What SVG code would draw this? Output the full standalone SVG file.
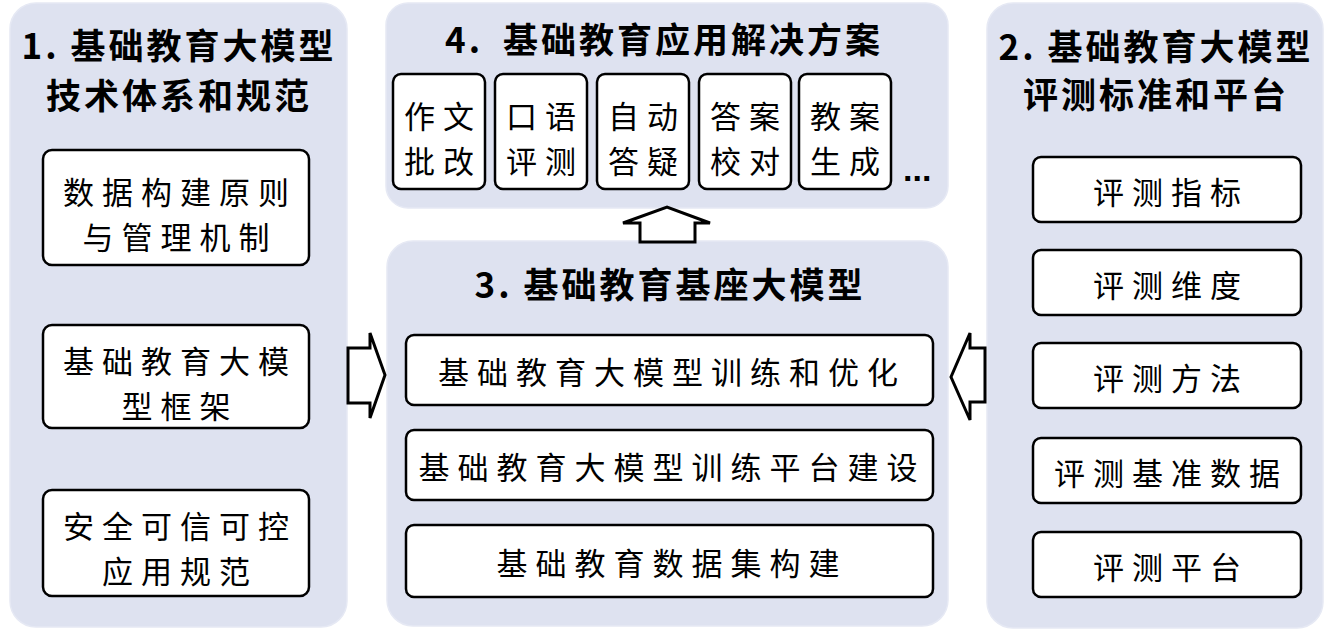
<svg xmlns="http://www.w3.org/2000/svg" width="1334" height="630" viewBox="0 0 1334 630">
  <style>
    .panel { fill: #DEE2F0; stroke: #E6E9F4; stroke-width: 1.5; }
    .box { fill: #FFFFFF; stroke: #000000; stroke-width: 2.5; }
    .arrow { fill: #FFFFFF; stroke: #000000; stroke-width: 3; stroke-linejoin: miter; }
    .title { font-family: "Noto Sans CJK SC", "Liberation Sans", sans-serif; font-weight: bold; font-size: 35px; letter-spacing: 3px; fill: #000; text-anchor: middle; dominant-baseline: central; }
    .lbl { font-family: "Noto Sans CJK SC", sans-serif; font-weight: normal; font-size: 31px; letter-spacing: 8px; fill: #000; text-anchor: middle; dominant-baseline: central; }
    .dots { font-family: "Liberation Sans", sans-serif; font-weight: bold; font-size: 34px; fill: #000; }
  </style>
  <rect width="1334" height="630" fill="#FFFFFF"/>

  <g id="panel-1">
    <rect class="panel" x="10" y="3" width="337" height="624" rx="26"/>
    <text class="title"><tspan x="179" y="43">1. 基础教育大模型</tspan><tspan x="179" y="93">技术体系和规范</tspan></text>
  </g>
  <g id="node-1a">
    <rect class="box" x="43" y="150" width="266" height="115" rx="9"/>
    <text class="lbl"><tspan x="180" y="190">数据构建原则</tspan><tspan x="180" y="235">与管理机制</tspan></text>
  </g>
  <g id="node-1b">
    <rect class="box" x="43" y="325" width="266" height="103" rx="9"/>
    <text class="lbl"><tspan x="180" y="359">基础教育大模</tspan><tspan x="180" y="404">型框架</tspan></text>
  </g>
  <g id="node-1c">
    <rect class="box" x="43" y="490" width="266" height="106" rx="9"/>
    <text class="lbl"><tspan x="180" y="524">安全可信可控</tspan><tspan x="180" y="569">应用规范</tspan></text>
  </g>

  <g id="panel-4">
    <rect class="panel" x="386" y="3" width="562" height="205" rx="22"/>
    <text class="title" y="37" style="text-anchor:start"><tspan x="445">4.</tspan><tspan x="503">基础教育应用解决方案</tspan></text>
  </g>
  <g id="node-4a">
    <rect class="box" x="393" y="74" width="92" height="115" rx="8"/>
    <text class="lbl"><tspan x="443" y="114">作文</tspan><tspan x="443" y="159">批改</tspan></text>
  </g>
  <g id="node-4b">
    <rect class="box" x="495" y="74" width="92" height="115" rx="8"/>
    <text class="lbl"><tspan x="545" y="114">口语</tspan><tspan x="545" y="159">评测</tspan></text>
  </g>
  <g id="node-4c">
    <rect class="box" x="597" y="74" width="92" height="115" rx="8"/>
    <text class="lbl"><tspan x="647" y="114">自动</tspan><tspan x="647" y="159">答疑</tspan></text>
  </g>
  <g id="node-4d">
    <rect class="box" x="699" y="74" width="92" height="115" rx="8"/>
    <text class="lbl"><tspan x="749" y="114">答案</tspan><tspan x="749" y="159">校对</tspan></text>
  </g>
  <g id="node-4e">
    <rect class="box" x="799" y="74" width="92" height="115" rx="8"/>
    <text class="lbl"><tspan x="849" y="114">教案</tspan><tspan x="849" y="159">生成</tspan></text>
  </g>
  <text class="dots" x="903" y="181">...</text>

  <g id="panel-3">
    <rect class="panel" x="387" y="241" width="561" height="385" rx="26"/>
    <text class="title" x="670" y="282">3. 基础教育基座大模型</text>
  </g>
  <g id="node-3a">
    <rect class="box" x="406" y="335" width="527" height="70" rx="8"/>
    <text class="lbl" x="672" y="370">基础教育大模型训练和优化</text>
  </g>
  <g id="node-3b">
    <rect class="box" x="406" y="430" width="527" height="70" rx="8"/>
    <text class="lbl" x="672" y="465">基础教育大模型训练平台建设</text>
  </g>
  <g id="node-3c">
    <rect class="box" x="406" y="525" width="527" height="72" rx="8"/>
    <text class="lbl" x="672" y="561">基础教育数据集构建</text>
  </g>

  <g id="panel-2">
    <rect class="panel" x="987" y="3" width="336" height="625" rx="26"/>
    <text class="title"><tspan x="1156" y="44">2. 基础教育大模型</tspan><tspan x="1156" y="92">评测标准和平台</tspan></text>
  </g>
  <g id="node-2a">
    <rect class="box" x="1033" y="157" width="268" height="65" rx="8"/>
    <text class="lbl" x="1171" y="190">评测指标</text>
  </g>
  <g id="node-2b">
    <rect class="box" x="1033" y="250" width="268" height="65" rx="8"/>
    <text class="lbl" x="1171" y="283">评测维度</text>
  </g>
  <g id="node-2c">
    <rect class="box" x="1033" y="343" width="268" height="65" rx="8"/>
    <text class="lbl" x="1171" y="376">评测方法</text>
  </g>
  <g id="node-2d">
    <rect class="box" x="1033" y="438" width="268" height="65" rx="8"/>
    <text class="lbl" x="1171" y="471">评测基准数据</text>
  </g>
  <g id="node-2e">
    <rect class="box" x="1033" y="532" width="268" height="65" rx="8"/>
    <text class="lbl" x="1171" y="565">评测平台</text>
  </g>

  <g id="connectors">
    <polygon class="arrow" points="348,348 370,348 370,333 385,375 370,418 370,403 348,403"/>
    <polygon class="arrow" points="985,348 970,348 970,333 951,377 970,420 970,402 985,402"/>
    <polygon class="arrow" points="640,242 640,223 623,223 667,207 710,223 695,223 695,242"/>
  </g>
</svg>
